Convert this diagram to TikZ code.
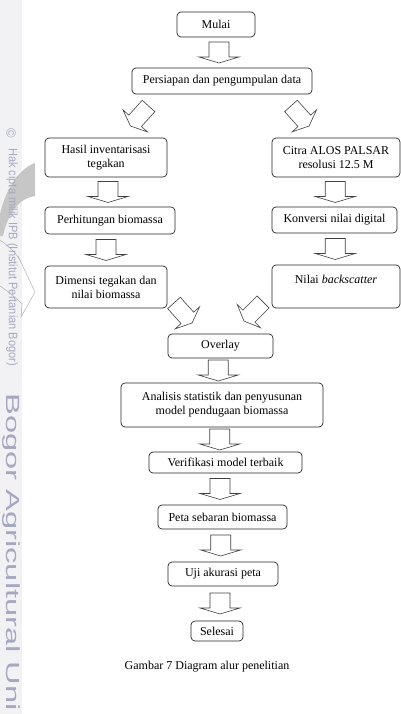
\documentclass[tikz,border=0pt]{standalone}
\usepackage{fontspec}
\setmainfont{Liberation Serif}
\newfontfamily\wmfont{Liberation Sans}
\usetikzlibrary{calc}

\definecolor{wmtext}{RGB}{165,168,192}
\definecolor{wmband}{RGB}{242,242,244}

\tikzset{
	procbox/.style={draw=black!85, line width=0.7pt, rounded corners=4pt, align=center, inner sep=1pt},
	flowline/.style={draw=black!75, line width=0.6pt, fill=white, line join=miter},
	downflow/.pic={
		\path[flowline] (-10,10.5) -- (-10,-4.5) -- (-20,-4.5) -- (0,-10.5) -- (20,-4.5) -- (10,-4.5) -- (10,10.5) -- cycle;
	},
	slantflow/.pic={
		\path[flowline] (-8.5,13.5) -- (-8.5,-6.5) -- (-16.5,-6.5) -- (0,-13.5) -- (16.5,-6.5) -- (8.5,-6.5) -- (8.5,13.5) -- cycle;
	}
}

\begin{document}
\begin{tikzpicture}[x=1pt,y=1pt]
\tikzstyle{every node}=[font=\fontsize{12}{14}\selectfont]
\useasboundingbox (0,0) rectangle (401,-714);

\fill[wmband] (0,0) rectangle (22,-714);
\fill[gray!45] (35,-163) -- (35,-196) .. controls (20,-198) and (8,-212) .. (3,-236) -- (0,-236) -- (0,-214) .. controls (6,-188) and (20,-168) .. (35,-163) -- cycle;
\draw[gray!60, line width=0.5pt] (0,-240) .. controls (8,-246) and (16,-252) .. (21,-262) -- (18,-256) -- (35,-292) -- (21,-317) -- (22,-304) .. controls (14,-296) and (6,-290) .. (0,-286);
\node[font=\wmfont\fontsize{13}{13}\selectfont, text=wmtext, rotate=-90] (wmcopy) at (11,-133) {\textcopyright};
\node[font=\wmfont\fontsize{9.2}{10}\selectfont, text=wmtext, rotate=-90, anchor=west, inner sep=0pt] (wmhak) at (12,-148) {\scalebox{1.2}[1.35]{Hak cipta milik IPB (Institut Pertanian Bogor)}};
\node[font=\wmfont\fontsize{19}{20}\selectfont, text=wmtext, rotate=-90, anchor=west, inner sep=0pt] (wmbogor) at (11,-393) {\scalebox{1.72}[1]{Bogor Agricultural Uni}};

\node[procbox, minimum width=78, minimum height=25] (mulai) at (216,-24.5) {Mulai};
\node[procbox, minimum width=180, minimum height=26] (persiapan) at (222,-81) {Persiapan dan pengumpulan data};
\node[procbox, minimum width=122, minimum height=39] (hasil) at (106,-157.5) {Hasil inventarisasi\\tegakan};
\node[procbox, minimum width=128, minimum height=39] (citra) at (336,-157.5) {Citra ALOS PALSAR\\resolusi 12.5 M};
\node[procbox, minimum width=130, minimum height=27] (perhitungan) at (110,-220.5) {Perhitungan biomassa};
\node[procbox, minimum width=125, minimum height=26] (konversi) at (334.5,-220) {Konversi nilai digital};
\node[procbox, minimum width=122, minimum height=42] (dimensi) at (106,-287) {Dimensi tegakan dan\\nilai biomassa};
\node[procbox, minimum width=128, minimum height=43] (nilai) at (336,-286.5) {Nilai \textit{backscatter}\\~};
\node[procbox, minimum width=105, minimum height=24] (overlay) at (220.5,-346) {Overlay};
\node[procbox, minimum width=202, minimum height=44] (analisis) at (222,-405) {Analisis statistik dan penyusunan\\model pendugaan biomassa};
\node[procbox, minimum width=153, minimum height=21] (verifikasi) at (225.5,-462.5) {Verifikasi model terbaik};
\node[procbox, minimum width=129, minimum height=24] (peta) at (222.5,-517) {Peta sebaran biomassa};
\node[procbox, minimum width=110, minimum height=24] (uji) at (223,-574) {Uji akurasi peta};
\node[procbox, minimum width=52, minimum height=20] (selesai) at (217,-631) {Selesai};
\node (caption) at (207,-667) {Gambar 7 Diagram alur penelitian};

\pic at ($(mulai.south)!0.5!(persiapan.north)$) {downflow};
\pic[rotate=-42] at ($(persiapan.south west)!0.5!(hasil.north east)+(-10,0)$) {slantflow};
\pic[rotate=42] at ($(persiapan.south east)!0.5!(citra.north west)+(8,0)$) {slantflow};
\pic at ($(hasil.south)!0.5!(perhitungan.north)$) {downflow};
\pic at ($(perhitungan.south)!0.5!(dimensi.north)+(-2,0)$) {downflow};
\pic at ($(citra.south)!0.5!(konversi.north)$) {downflow};
\pic at ($(konversi.south)!0.5!(nilai.north)$) {downflow};
\pic[rotate=42] at ($(dimensi.south east)!0.5!(overlay.north west)+(15.5,8)$) {slantflow};
\pic[rotate=-45] at ($(nilai.south west)!0.5!(overlay.north east)+(-19,9.5)$) {slantflow};
\pic at ($(overlay.south)!0.5!(analisis.north)+(-3,0)$) {downflow};
\pic at ($(analisis.south)!0.5!(verifikasi.north)+(-4,0)$) {downflow};
\pic at ($(verifikasi.south)!0.5!(peta.north)+(-4,0)$) {downflow};
\pic at ($(peta.south)!0.5!(uji.north)+(-2,0)$) {downflow};
\pic at ($(uji.south)!0.5!(selesai.north)$) {downflow};

\end{tikzpicture}
\end{document}
